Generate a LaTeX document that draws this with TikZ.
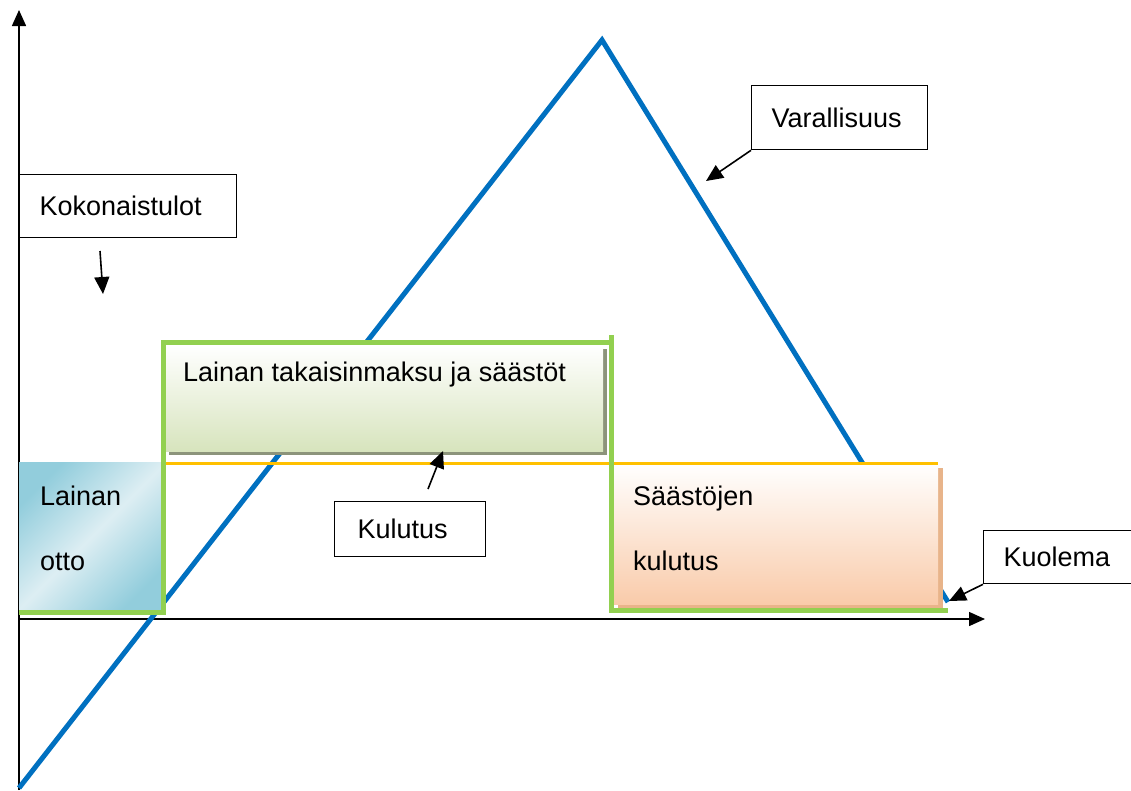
\documentclass[tikz,border=0pt]{standalone}
\usepackage{fontspec}
\setmainfont{Liberation Sans}
\usetikzlibrary{arrows.meta,positioning}
\definecolor{wblue}{HTML}{0070C0}
\definecolor{wgreen}{HTML}{92D050}
\definecolor{worange}{HTML}{FFC000}
\definecolor{lgreen}{HTML}{D7E4BD}
\definecolor{lblue}{HTML}{92CDDC}
\definecolor{lblue2}{HTML}{DDEEF3}
\definecolor{peach}{HTML}{F9CBAA}
\begin{document}
\begin{tikzpicture}[x=1pt,y=-1pt,
  every node/.style={font=\fontsize{27}{31}\selectfont},
  lbl/.style={draw=black, line width=1.3pt, fill=white, anchor=north west, inner sep=0pt, inner xsep=20pt, align=left, text depth=0pt},
  pointer/.style={draw=black, line width=1.6pt, -{Triangle[length=17pt,width=15pt]}},
  axis/.style={draw=black, line width=1.5pt, -{Triangle[length=16pt,width=14pt]}},
  gline/.style={draw=wgreen, line width=5pt},
  shadow/.style={fill=#1, draw=none},
  txt/.style={anchor=base west, inner sep=0pt}]
\clip (0,0) rectangle (1131,790);
\fill[white] (0,0) rectangle (1131,790);

% axes
\coordinate (origin) at (19,619);
\coordinate (ybot) at (19,790);
\coordinate (ytop) at (19,10);
\coordinate (xend) at (985,619);
\draw[axis] (ybot) -- (ytop);
\draw[axis] (origin) -- (xend);

% wealth line (behind the boxes)
\coordinate (w0) at (19,788);
\coordinate (peak) at (602,40);
\coordinate (death) at (948,602);
\draw[draw=wblue, line width=5pt] (w0) -- (peak) -- (death);

% shaded boxes with shadows
\fill[shadow={black!35!lgreen}] (169,349) rectangle (607,455);
\node[anchor=north west, minimum width=438pt, minimum height=106pt, inner sep=0pt, top color=white, bottom color=lgreen] (repay) at (165,345) {};
\node[txt] (repaytxt) at (183,381) {Lainan takaisinmaksu ja säästöt};

\node[anchor=north west, minimum width=144pt, minimum height=150pt, inner sep=0pt,
  left color=lblue, right color=lblue, middle color=lblue2, shading angle=45] (loan) at (19,462) {};
\node[txt] (loan1) at (40,505) {Lainan};
\node[txt] (loan2) at (40,570) {otto};

\fill[shadow={peach!70!brown}] (618,468) rectangle (943,609);
\node[anchor=north west, minimum width=325pt, minimum height=141pt, inner sep=0pt, top color=white, bottom color=peach] (spend) at (613,463) {};
\node[txt] (spend1) at (633,505) {Säästöjen};
\node[txt] (spend2) at (633,570) {kulutus};

% orange consumption line
\draw[draw=worange, line width=3pt] (163,463) coordinate (o1) -- (938,463) coordinate (o2);

% green frames
\draw[gline] (163,340) -- (163,615);
\draw[gline] (161,342) -- (613,342);
\draw[gline] (611,335) -- (611,613);
\draw[gline] (19,612) -- (165,612);
\draw[gline] (609,610) -- (948,610);

% label boxes
\node[lbl, minimum width=217pt, text width=177pt, minimum height=63pt] (tulot) at (19,174) {Kokonaistulot};
\node[lbl, minimum width=176pt, text width=136pt, minimum height=64pt] (vara) at (751,85) {Varallisuus};
\node[lbl, minimum width=151pt, text width=105pt, minimum height=55pt, inner xsep=23pt] (kulutus) at (334,501) {Kulutus};
\node[lbl, minimum width=170pt, text width=130pt, minimum height=53pt] (kuolema) at (983,530) {Kuolema};

% pointers
\coordinate (t1) at (100,251);
\coordinate (t2) at (103,294);
\draw[pointer] (t1) -- (t2);
\coordinate (v2) at (706,181);
\draw[pointer] (vara.south west) -- (v2);
\coordinate (k1) at (428,489);
\coordinate (k2) at (443,451);
\draw[pointer] (k1) -- (k2);
\coordinate (d2) at (949,601);
\draw[pointer] (kuolema.south west) -- (d2);
\end{tikzpicture}
\end{document}
